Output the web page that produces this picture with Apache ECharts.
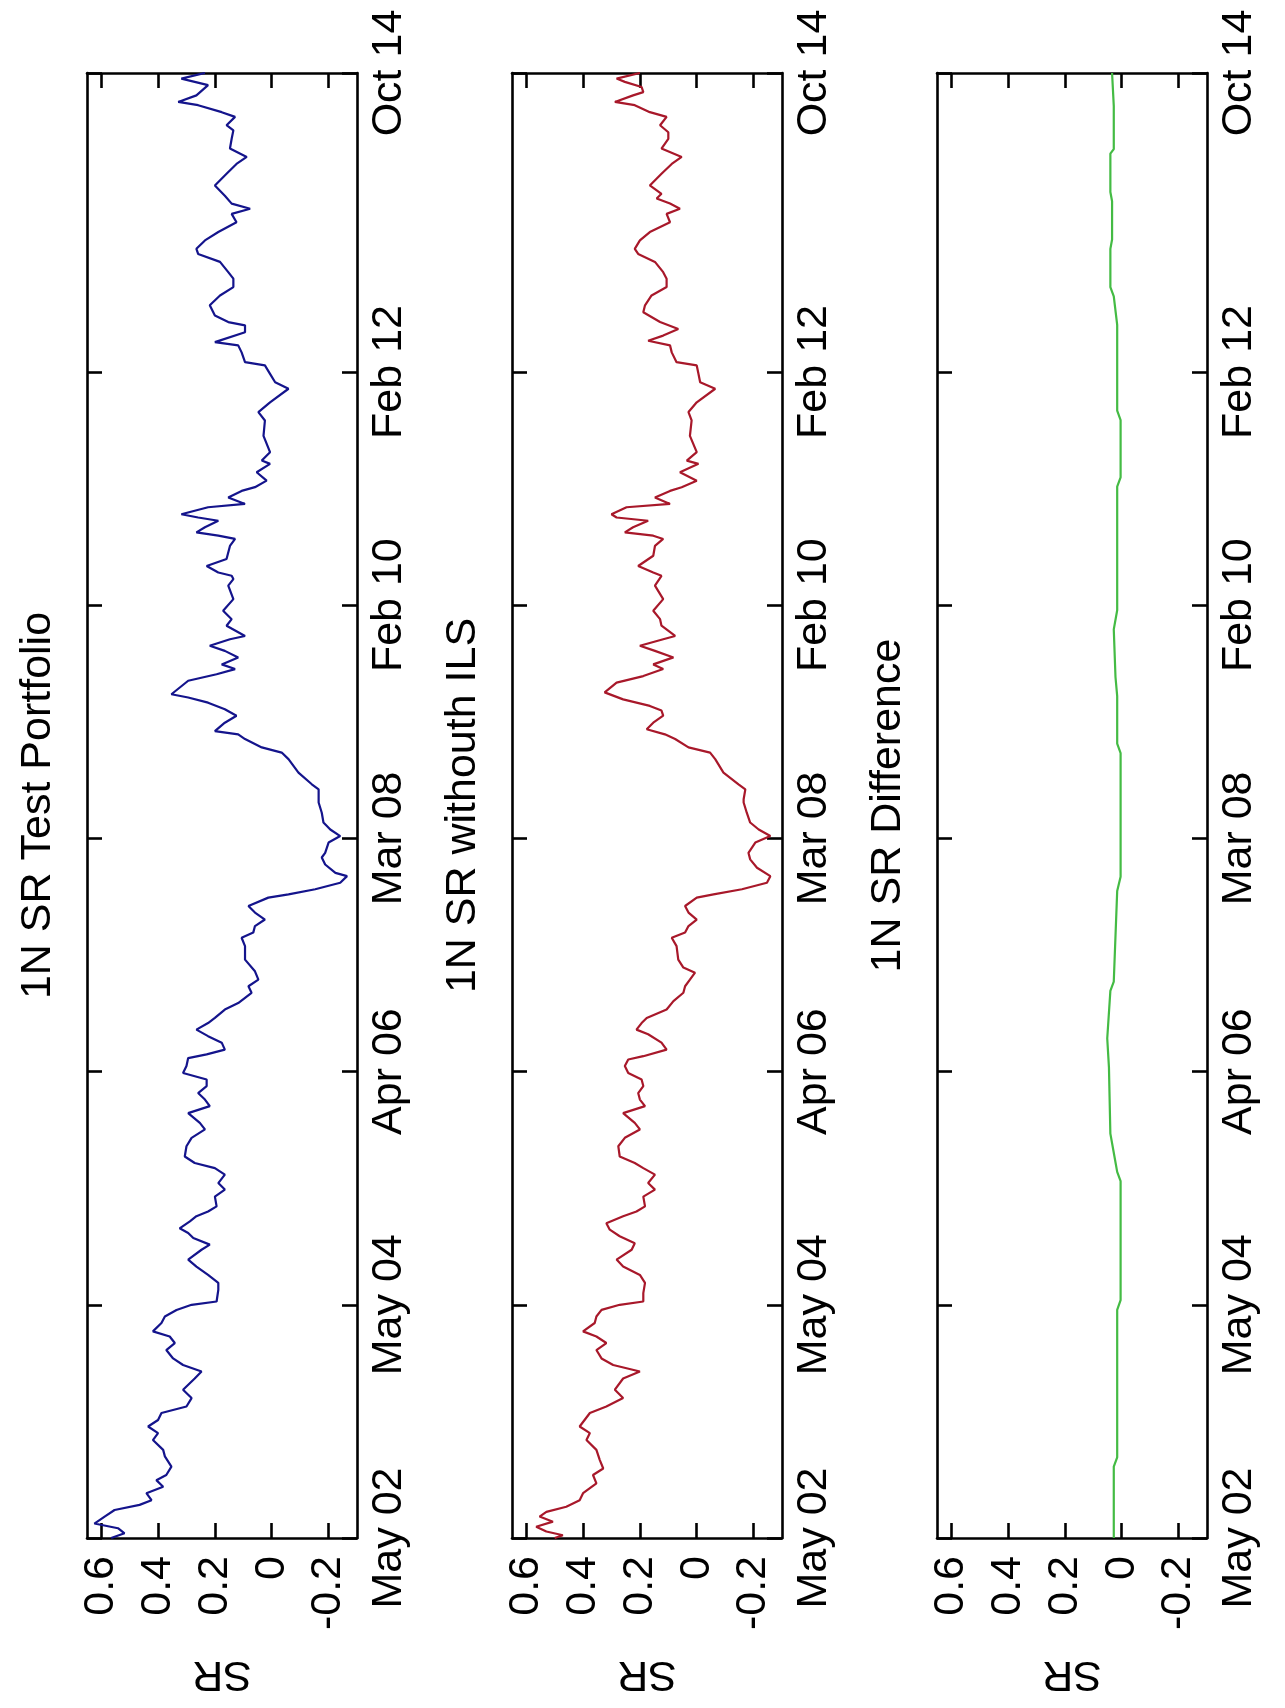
<!DOCTYPE html>
<html>
<head>
<meta charset="utf-8">
<script src="https://cdn.jsdelivr.net/npm/echarts@6/dist/echarts.min.js"></script>
<style>
html,body{margin:0;padding:0;background:#fff;}
#chart{width:1285px;height:1708px;}
</style>
</head>
<body>
<div id="chart"></div>
<script>
// ---- tick labels and axis ranges ----
const tickIdx = [0, 500, 1000, 1500, 2000, 2500, 3141];
const tickLabels = ['May 02', 'May 04', 'Apr 06', 'Mar 08', 'Feb 10', 'Feb 12', 'Oct 14'];
const srTicks = [-0.2, 0, 0.2, 0.4, 0.6];
const panelTitles = ['1N SR Test Portfolio', '1N SR withouth ILS', '1N SR Difference'];

// ---- series values: [observation index, SR] ----
const srTest = [
[3141,0.235],[3129,0.318],[3115,0.224],[3093,0.265],[3079,0.329],[3072,0.259],[3057,0.176],[3047,0.129],[3029,0.159],[3018,0.135],[3000,0.141],[2979,0.147],[2961,0.088],[2946,0.124],[2925,0.159],[2900,0.200],[2878,0.165],[2861,0.141],[2850,0.076],[2839,0.141],[2821,0.124],[2800,0.188],[2782,0.235],[2764,0.265],[2753,0.259],[2736,0.182],[2714,0.153],[2700,0.135],[2682,0.135],[2664,0.182],[2643,0.218],[2621,0.200],[2607,0.153],[2600,0.094],[2585,0.094],[2564,0.200],[2557,0.118],[2542,0.106],[2521,0.094],[2514,0.024],[2496,0.006],[2478,-0.012],[2464,-0.059],[2435,0.006],[2414,0.047],[2396,0.024],[2363,0.029],
[2328,0.006],[2310,0.035],[2303,0.006],[2285,0.053],[2267,0.018],[2253,0.059],[2245,0.106],[2231,0.153],[2217,0.094],[2210,0.224],[2195,0.318],[2188,0.259],[2181,0.188],[2167,0.235],[2156,0.265],[2149,0.188],[2142,0.129],[2127,0.147],[2099,0.159],[2084,0.229],[2070,0.188],[2063,0.141],[2056,0.135],[2042,0.153],[2013,0.135],[1988,0.171],[1970,0.141],[1956,0.159],[1934,0.094],[1927,0.147],[1913,0.218],[1902,0.165],[1888,0.118],[1873,0.176],[1863,0.129],[1852,0.194],[1838,0.294],[1809,0.353],[1802,0.294],[1791,0.224],[1777,0.165],[1763,0.124],[1748,0.165],[1730,0.200],[1723,0.118],[1713,0.094],[1695,0.035],[1684,-0.035],[1670,-0.059],[1641,-0.094],[1616,-0.141],[1605,-0.165],[1584,-0.165],
[1577,-0.165],[1555,-0.176],[1534,-0.182],[1519,-0.206],[1505,-0.241],[1491,-0.200],[1469,-0.188],[1459,-0.176],[1444,-0.188],[1426,-0.224],[1419,-0.265],[1405,-0.241],[1391,-0.153],[1380,-0.059],[1373,0.012],[1355,0.082],[1341,0.059],[1326,0.024],[1312,0.059],[1298,0.065],[1287,0.106],[1269,0.094],[1240,0.094],[1215,0.059],[1197,0.047],[1183,0.082],[1169,0.071],[1147,0.118],[1133,0.165],[1115,0.200],[1104,0.224],[1090,0.265],[1076,0.224],[1062,0.176],[1047,0.165],[1037,0.229],[1029,0.294],[1012,0.300],[997,0.312],[983,0.229],[969,0.229],[954,0.259],[940,0.235],[926,0.218],[911,0.294],[890,0.253],[876,0.235],[858,0.282],[840,0.300],[818,0.306],
[804,0.271],[793,0.200],[779,0.165],[761,0.188],[747,0.165],[732,0.200],[711,0.194],[700,0.224],[690,0.265],[679,0.288],[664,0.324],[654,0.294],[643,0.276],[629,0.218],[618,0.247],[597,0.294],[582,0.265],[564,0.224],[547,0.188],[532,0.188],[507,0.194],[500,0.282],[489,0.335],[475,0.376],[461,0.388],[443,0.418],[432,0.359],[418,0.341],[403,0.371],[385,0.347],[371,0.312],[357,0.247],[342,0.271],[318,0.312],[300,0.282],[282,0.300],[268,0.388],[253,0.400],[239,0.435],[225,0.400],[210,0.418],[189,0.382],[175,0.376],[153,0.353],[135,0.371],[124,0.406],[110,0.382],[96,0.441],[81,0.423],[71,0.465],[60,0.553],[46,0.588],[31,0.624],[21,0.541],[10,0.518],[0,0.565]
];

const srNoILS = [
[3141,0.200],[3129,0.282],[3122,0.253],[3111,0.194],[3100,0.188],[3093,0.224],[3079,0.288],[3072,0.218],[3057,0.165],[3047,0.106],[3029,0.129],[3014,0.100],[3000,0.100],[2979,0.124],[2961,0.053],[2946,0.088],[2925,0.124],[2900,0.165],[2882,0.124],[2872,0.141],[2861,0.094],[2850,0.059],[2839,0.106],[2821,0.094],[2800,0.165],[2782,0.200],[2764,0.218],[2753,0.206],[2736,0.147],[2714,0.118],[2700,0.106],[2682,0.106],[2664,0.159],[2643,0.182],[2628,0.188],[2607,0.129],[2592,0.065],[2578,0.118],[2567,0.171],[2557,0.094],[2542,0.088],[2521,0.071],[2514,0.000],[2496,-0.006],[2478,-0.012],[2464,-0.065],[2435,0.000],[2414,0.029],[2396,0.018],[2363,0.024],
[2328,0.000],[2310,0.035],[2303,-0.006],[2285,0.059],[2267,0.000],[2253,0.053],[2245,0.094],[2231,0.147],[2217,0.094],[2210,0.247],[2195,0.300],[2188,0.282],[2181,0.171],[2167,0.224],[2156,0.253],[2149,0.153],[2142,0.118],[2127,0.147],[2106,0.153],[2084,0.206],[2070,0.153],[2063,0.124],[2042,0.147],[2013,0.118],[1988,0.153],[1970,0.129],[1956,0.124],[1934,0.076],[1927,0.118],[1913,0.200],[1902,0.147],[1888,0.082],[1873,0.153],[1863,0.118],[1848,0.188],[1834,0.282],[1813,0.324],[1798,0.259],[1784,0.165],[1774,0.124],[1763,0.118],[1748,0.153],[1734,0.176],[1723,0.112],[1713,0.076],[1695,0.029],[1684,-0.047],[1670,-0.065],[1641,-0.094],[1616,-0.147],[1605,-0.171],[1584,-0.165],
[1577,-0.165],[1555,-0.176],[1534,-0.188],[1519,-0.218],[1505,-0.259],[1491,-0.206],[1469,-0.182],[1455,-0.188],[1437,-0.212],[1419,-0.259],[1405,-0.247],[1391,-0.159],[1380,-0.059],[1373,0.000],[1355,0.041],[1341,0.029],[1326,0.000],[1312,0.029],[1298,0.041],[1287,0.088],[1269,0.071],[1240,0.065],[1223,0.047],[1212,0.006],[1197,0.024],[1183,0.041],[1169,0.047],[1151,0.082],[1133,0.106],[1115,0.176],[1104,0.194],[1090,0.212],[1080,0.171],[1062,0.124],[1047,0.106],[1033,0.188],[1026,0.241],[1012,0.253],[997,0.241],[983,0.194],[969,0.188],[954,0.206],[940,0.200],[926,0.182],[911,0.259],[890,0.218],[876,0.200],[858,0.253],[840,0.276],[818,0.271],
[804,0.218],[793,0.188],[779,0.147],[761,0.171],[747,0.147],[732,0.188],[711,0.182],[700,0.212],[690,0.259],[675,0.318],[661,0.306],[647,0.271],[632,0.218],[618,0.229],[597,0.282],[582,0.259],[564,0.200],[547,0.182],[525,0.188],[507,0.188],[500,0.271],[489,0.335],[475,0.353],[461,0.359],[443,0.400],[432,0.353],[418,0.318],[403,0.353],[385,0.335],[371,0.294],[357,0.200],[342,0.259],[318,0.288],[300,0.259],[282,0.318],[268,0.376],[239,0.412],[225,0.376],[210,0.388],[189,0.353],[167,0.341],[149,0.329],[135,0.365],[117,0.353],[96,0.400],[81,0.412],[67,0.459],[56,0.529],[46,0.553],[35,0.506],[24,0.565],[14,0.529],[6,0.471],[0,0.500]
];

const srDiff = [
[3141,0.034],[3070,0.028],[2978,0.028],[2968,0.040],[2886,0.040],[2866,0.034],[2784,0.034],[2764,0.040],[2682,0.040],[2662,0.028],[2601,0.016],[2417,0.016],[2397,0.004],[2274,0.004],[2254,0.016],[1989,0.016],[1948,0.028],[1846,0.022],[1805,0.016],[1703,0.016],[1683,0.004],[1418,0.004],[1387,0.016],[1193,0.028],[1173,0.040],[1071,0.051],[1009,0.045],[867,0.040],[826,0.028],[785,0.016],[765,0.004],[510,0.004],[489,0.016],[173,0.016],[153,0.028],[0,0.028]
];

const seriesList = [srTest, srNoILS, srDiff];
const seriesColors = ['#14148c', '#a8182a', '#44bb44'];

// ---- layout ----
const panelLefts = [87, 512, 937];
const panelTop = 73, panelW = 270, panelH = 1465;
const FONT = '"Liberation Sans", Arial, Helvetica, sans-serif';
const black = '#000';

const grids = [], xAxes = [], yAxes = [], series = [], graphics = [];
const lineStyle = { color: black, width: 2.6 };

panelLefts.forEach((l, i) => {
  grids.push({ left: l, top: panelTop, width: panelW, height: panelH, outerBoundsMode: 'none' });
  const xCommon = { gridIndex: i, type: 'value', min: -0.3, max: 0.65, inverse: true, splitLine: { show: false } };
  xAxes.push(Object.assign({}, xCommon, {
    position: 'bottom',
    axisLine: { show: true, onZero: false, lineStyle },
    axisTick: { show: true, inside: true, length: 15, customValues: srTicks, lineStyle },
    axisLabel: { show: true, customValues: srTicks, rotate: 90, margin: 18, fontSize: 43, fontFamily: FONT, color: black,
                 formatter: v => String(Math.round(v * 10) / 10) },
    name: 'SR', nameLocation: 'middle', nameGap: 114, nameRotate: 180,
    nameTextStyle: { fontSize: 43, fontFamily: FONT, color: black }
  }));
  xAxes.push(Object.assign({}, xCommon, {
    position: 'top',
    axisLine: { show: true, onZero: false, lineStyle },
    axisTick: { show: true, inside: true, length: 15, customValues: srTicks, lineStyle },
    axisLabel: { show: false }
  }));
  const yCommon = { gridIndex: i, type: 'value', min: 0, max: 3141, splitLine: { show: false } };
  yAxes.push(Object.assign({}, yCommon, {
    position: 'right',
    axisLine: { show: true, onZero: false, lineStyle },
    axisTick: { show: true, inside: true, length: 15, customValues: tickIdx, lineStyle },
    axisLabel: { show: true, customValues: tickIdx, rotate: 90, margin: 11, fontSize: 43, fontFamily: FONT, color: black,
                 formatter: v => { const k = tickIdx.indexOf(v); return k >= 0 ? tickLabels[k] : ''; } }
  }));
  yAxes.push(Object.assign({}, yCommon, {
    position: 'left',
    axisLine: { show: true, onZero: false, lineStyle },
    axisTick: { show: true, inside: true, length: 15, customValues: tickIdx, lineStyle },
    axisLabel: { show: false }
  }));
  const pts = seriesList[i].slice().sort((a, b) => a[0] - b[0]);
  series.push({
    type: 'line', xAxisIndex: 2 * i, yAxisIndex: 2 * i,
    data: pts.map(p => [p[1], p[0]]),
    showSymbol: false, symbol: 'none', smooth: false, animation: false,
    lineStyle: { color: seriesColors[i], width: 2.2 }
  });
  graphics.push({
    type: 'text', x: l - 49, y: panelTop + panelH / 2, rotation: Math.PI / 2,
    style: { text: panelTitles[i], fontSize: 43, fontFamily: FONT, fill: black, align: 'center', verticalAlign: 'middle' }
  });
});

const chart = echarts.init(document.getElementById('chart'), null, { renderer: 'canvas' });
chart.setOption({
  animation: false,
  backgroundColor: '#fff',
  grid: grids,
  xAxis: xAxes,
  yAxis: yAxes,
  series: series,
  graphic: graphics
});
</script>
</body>
</html>
